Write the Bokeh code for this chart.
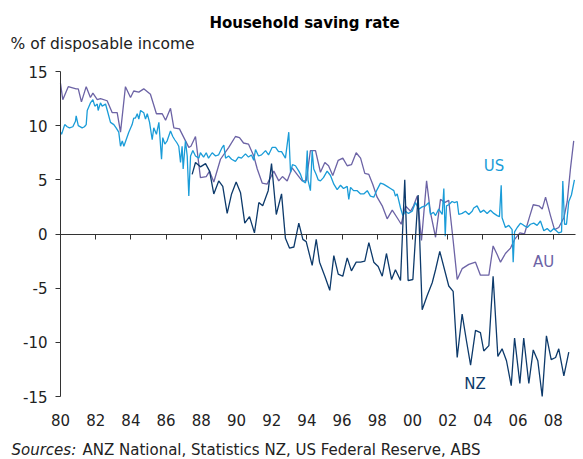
from bokeh.plotting import figure
from bokeh.models import Label, FixedTicker, Range1d, LinearAxis
from bokeh.embed import file_html
from bokeh.resources import INLINE

# ---------------- data ----------------
us_year = [1980.0, 1980.06, 1980.24, 1980.38, 1980.51, 1980.70, 1980.85, 1980.89, 1981.01, 1981.23,
           1981.36, 1981.46, 1981.52, 1981.70, 1981.84, 1981.95, 1982.09, 1982.14, 1982.27, 1982.37,
           1982.56, 1982.71, 1982.84, 1983.03, 1983.16, 1983.31, 1983.41, 1983.51, 1983.60, 1983.73,
           1983.88, 1984.07, 1984.16, 1984.26, 1984.36, 1984.45, 1984.55, 1984.73, 1984.83, 1984.93,
           1985.06, 1985.21, 1985.30, 1985.45, 1985.59, 1985.74, 1985.81, 1985.93, 1986.06, 1986.25,
           1986.38, 1986.49, 1986.62, 1986.72, 1986.82, 1986.91, 1986.97, 1987.10, 1987.20, 1987.29,
           1987.39, 1987.52, 1987.67, 1987.86, 1987.95, 1988.13, 1988.28, 1988.41, 1988.62, 1988.81,
           1988.98, 1989.19, 1989.28, 1989.38, 1989.55, 1989.72, 1989.94, 1990.11, 1990.28, 1990.51,
           1990.68, 1990.85, 1990.98, 1991.08, 1991.25, 1991.42, 1991.65, 1991.82, 1992.03, 1992.22,
           1992.39, 1992.56, 1992.78, 1992.97, 1993.07, 1993.18, 1993.35, 1993.54, 1993.64, 1993.77,
           1993.92, 1994.02, 1994.06, 1994.20, 1994.30, 1994.39, 1994.53, 1994.64, 1994.77, 1994.94,
           1995.15, 1995.34, 1995.53, 1995.72, 1995.91, 1996.08, 1996.29, 1996.38, 1996.48, 1996.65,
           1996.86, 1997.05, 1997.23, 1997.43, 1997.61, 1997.80, 1997.99, 1998.18, 1998.35, 1998.56,
           1998.75, 1998.94, 1999.03, 1999.13, 1999.32, 1999.45, 1999.60, 1999.77, 1999.98, 2000.17,
           2000.36, 2000.55, 2000.74, 2000.93, 2001.02, 2001.19, 2001.31, 2001.49, 2001.69, 2001.78,
           2001.86, 2001.93, 2002.06, 2002.25, 2002.39, 2002.54, 2002.63, 2002.82, 2003.01, 2003.20,
           2003.39, 2003.48, 2003.67, 2003.86, 2004.05, 2004.24, 2004.43, 2004.62, 2004.81, 2004.94,
           2005.04, 2005.09, 2005.28, 2005.47, 2005.66, 2005.72, 2005.80, 2005.95, 2006.14, 2006.32,
           2006.52, 2006.70, 2006.89, 2007.08, 2007.27, 2007.46, 2007.65, 2007.84, 2008.03, 2008.31,
           2008.47, 2008.54, 2008.64, 2008.75, 2008.88, 2009.03, 2009.20]
us_val = [9.4, 9.2, 10.1, 9.9, 9.8, 9.9, 10.4, 10.9, 10.0, 9.8,
          9.9, 10.1, 11.4, 12.1, 12.4, 11.8, 12.0, 11.4, 12.1, 11.8,
          12.0, 11.1, 10.3, 10.1, 9.8, 9.4, 8.1, 8.6, 8.1, 8.7,
          9.4, 10.1, 10.7, 10.7, 11.1, 10.6, 11.4, 11.2, 10.6, 11.1,
          10.3, 8.7, 9.8, 9.2, 10.3, 6.9, 8.9, 8.3, 8.6, 9.5,
          9.0, 8.7, 8.4, 8.1, 6.6, 8.1, 6.0, 8.6, 7.2, 3.5,
          7.2, 7.7, 7.2, 7.0, 7.5, 7.1, 7.5, 7.0, 7.5, 7.2,
          7.3, 8.0, 8.2, 7.0, 7.2, 6.9, 6.7, 7.1, 7.0, 7.4,
          7.1, 7.3, 6.8, 7.8, 7.2, 7.3, 7.7, 7.3, 8.0, 8.0,
          7.6, 7.6, 7.0, 9.4, 5.7, 6.4, 6.3, 5.8, 5.5, 4.9,
          4.7, 7.7, 5.0, 4.0, 7.7, 6.0, 5.5, 5.0, 4.9, 5.2,
          5.8, 5.4, 4.6, 4.1, 4.5, 4.2, 4.4, 3.2, 4.3, 4.0,
          4.0, 3.7, 3.7, 4.0, 3.5, 3.4, 4.1, 4.7, 4.6, 4.4,
          4.2, 4.0, 3.5, 3.7, 2.4, 1.7, 2.1, 1.9, 2.1, 2.9,
          2.3, 2.5, 2.6, 2.9, 1.8, 2.0, 1.7, 2.3, 1.8, 4.2,
          -0.2, 2.6, 2.7, 3.0, 2.9, 3.0, 1.8, 1.9, 2.1, 1.8,
          2.1, 2.4, 2.6, 2.0, 2.2, 1.9, 2.2, 1.9, 1.7, 1.6,
          4.5, 1.5, 0.6, 0.8, 0.4, -2.6, 0.2, 0.6, 1.0, 0.8,
          0.6, 0.9, 1.0, 0.8, 1.2, 0.3, 0.5, 0.2, 0.5, 0.1,
          0.2, 4.9, 0.9, 0.9, 3.0, 3.6, 5.0]

au_year = [1980.0, 1980.13, 1980.44, 1980.89, 1981.01, 1981.19, 1981.46, 1981.70, 1981.84, 1982.09,
           1982.27, 1982.65, 1982.94, 1983.22, 1983.41, 1983.69, 1983.98, 1984.16, 1984.45, 1984.73,
           1985.11, 1985.45, 1985.78, 1985.97, 1986.25, 1986.44, 1986.76, 1987.01, 1987.29, 1987.41,
           1987.67, 1987.95, 1988.28, 1988.47, 1988.71, 1989.09, 1989.56, 1989.94, 1990.17, 1990.40,
           1990.68, 1990.98, 1991.18, 1991.46, 1991.74, 1992.12, 1992.40, 1992.61, 1992.88, 1993.16,
           1993.54, 1993.73, 1993.96, 1994.20, 1994.49, 1994.77, 1995.02, 1995.23, 1995.47, 1995.78,
           1996.04, 1996.29, 1996.53, 1996.80, 1997.05, 1997.29, 1997.52, 1997.74, 1997.99, 1998.28,
           1998.56, 1998.85, 1999.13, 1999.36, 1999.60, 1999.89, 2000.06, 2000.27, 2000.51, 2000.80,
           2001.02, 2001.31, 2001.59, 2001.82, 2002.06, 2002.31, 2002.54, 2002.82, 2003.20, 2003.58,
           2003.86, 2004.34, 2004.58, 2004.81, 2005.00, 2005.28, 2005.57, 2005.80, 2006.10, 2006.36,
           2006.67, 2006.86, 2007.18, 2007.37, 2007.56, 2007.84, 2008.07, 2008.31, 2008.60, 2008.79,
           2008.98, 2009.16]
au_val = [13.9, 12.4, 13.6, 13.4, 13.4, 12.2, 13.6, 12.6, 13.0, 12.4,
          12.5, 12.3, 11.2, 11.2, 9.4, 13.6, 12.6, 13.2, 13.1, 13.4,
          12.9, 11.1, 11.1, 10.5, 11.6, 9.8, 9.7, 8.9, 8.0, 8.1,
          9.0, 5.2, 5.3, 5.8, 4.8, 6.9, 8.0, 9.0, 8.9, 8.4,
          8.3, 7.2, 6.0, 4.7, 4.6, 5.8, 4.9, 5.3, 4.9, 6.1,
          5.3, 4.9, 4.9, 7.7, 7.7, 5.7, 6.6, 6.3, 5.4, 6.8,
          7.0, 6.3, 6.4, 7.5, 7.0, 5.6, 5.5, 4.6, 3.4, 2.6,
          1.4, 2.2, 1.5, 0.9, 2.6, 2.1, 2.6, 3.5, -0.6, 4.9,
          2.0, -0.3, 3.2, 2.9, 3.1, -0.6, -4.2, -3.2, -2.8, -2.6,
          -3.8, -3.8, -1.1, -1.9, -2.6, -1.8, -1.3, -0.5, 0.1, 0.0,
          1.7, 2.7, 2.6, 2.3, 3.4, 1.7, 0.4, 0.6, 1.5, 3.0,
          6.1, 8.6]

nz_year = [1987.48, 1987.67, 1987.95, 1988.24, 1988.47, 1988.71, 1988.99, 1989.22, 1989.47, 1989.72,
           1989.98, 1990.23, 1990.47, 1990.74, 1991.02, 1991.27, 1991.49, 1991.80, 1991.99, 1992.26,
           1992.56, 1992.78, 1993.01, 1993.26, 1993.54, 1993.77, 1993.96, 1994.30, 1994.53, 1994.72,
           1995.02, 1995.30, 1995.53, 1995.78, 1996.04, 1996.29, 1996.53, 1996.80, 1997.05, 1997.29,
           1997.52, 1997.80, 1998.05, 1998.28, 1998.52, 1998.81, 1999.03, 1999.32, 1999.56, 1999.75,
           2000.02, 2000.32, 2000.55, 2000.83, 2001.12, 2001.31, 2001.55, 2002.06, 2002.31, 2002.54,
           2002.82, 2003.07, 2003.30, 2003.58, 2003.86, 2004.05, 2004.34, 2004.58, 2004.85, 2005.09,
           2005.34, 2005.61, 2005.80, 2006.10, 2006.32, 2006.61, 2006.86, 2007.12, 2007.37, 2007.61,
           2007.88, 2008.13, 2008.31, 2008.60, 2008.88]
nz_val = [5.5, 6.6, 6.2, 6.5, 5.8, 3.7, 4.9, 4.4, 1.9, 3.7,
          4.8, 3.8, 1.0, 1.6, 0.1, 2.9, 2.6, 4.0, 6.5, 1.8,
          3.7, -0.4, -1.3, -1.2, 1.0, -0.5, -0.7, -2.9, -0.5, -2.6,
          -3.9, -5.2, -2.0, -3.7, -3.9, -2.2, -3.4, -2.6, -2.6, -2.5,
          -0.8, -2.6, -3.0, -3.9, -1.8, -4.2, -3.3, -4.3, 5.0, -4.3,
          -4.2, 3.6, -7.0, -5.7, -4.5, -3.3, -1.6, -4.8, -5.3, -11.4,
          -7.4, -9.9, -12.1, -8.9, -9.1, -10.8, -10.3, -3.9, -11.3, -10.6,
          -11.7, -14.0, -9.6, -13.8, -9.6, -13.8, -10.7, -11.7, -15.0, -9.4,
          -11.6, -11.4, -10.6, -13.1, -10.9]

x_ticks = [1980, 1982, 1984, 1986, 1988, 1990, 1992, 1994, 1996, 1998, 2000, 2002, 2004, 2006, 2008]
x_tick_labels = ["80", "82", "84", "86", "88", "90", "92", "94", "96", "98", "00", "02", "04", "06", "08"]
y_ticks = [15, 10, 5, 0, -5, -10, -15]
y_tick_labels = ["15", "10", "5", "0", "-5", "-10", "-15"]

series_names = ["US", "AU", "NZ"]
series_colors = ["#1a9cd8", "#6c63a5", "#0d3a6b"]

title_text = "Household saving rate"
ylabel_text = "% of disposable income"
source_lead = "Sources:"
source_text = "ANZ National, Statistics NZ, US Federal Reserve, ABS"

# ---------------- layout geometry (pixels) ----------------
W, H = 583, 459
PX_LEFT, PX_TOP, PX_BOTTOM = 60.0, 71.0, 396.0     # where 1980 / +15 / -15 sit
PX_PER_YEAR = 17.6
Y_TOP, Y_BOT = 15.0, -15.0
PX_PER_UNIT = (PX_BOTTOM - PX_TOP) / (Y_TOP - Y_BOT)


def xd(px):
    return 1980 + (px - PX_LEFT) / PX_PER_YEAR


def yd(py):
    return Y_TOP - (py - PX_TOP) / PX_PER_UNIT


FONT = "DejaVu Sans"
TXT = "#222222"
AX = "#333333"

p = figure(width=W, height=H, output_backend="svg", toolbar_location=None,
           x_range=Range1d(xd(0), xd(W)), y_range=Range1d(yd(H), yd(0)),
           x_axis_location=None, y_axis_location=None, min_border=0)
p.outline_line_color = None
p.xgrid.grid_line_color = None
p.ygrid.grid_line_color = None
p.background_fill_color = "white"
p.border_fill_color = "white"

# y axis at 1980, spanning -15..15
yax = LinearAxis(fixed_location=1980, bounds=(Y_BOT, Y_TOP), ticker=FixedTicker(ticks=y_ticks))
yax.major_label_overrides = dict(zip(y_ticks, y_tick_labels))
yax.major_tick_out = 5
yax.major_tick_in = 0
yax.minor_tick_line_color = None
yax.axis_line_color = AX
yax.major_tick_line_color = AX
yax.major_label_standoff = 8
yax.major_label_text_font = FONT
yax.major_label_text_font_size = "15px"
yax.major_label_text_color = TXT
p.add_layout(yax, "left")

# zero line with downward ticks (no labels)
zax = LinearAxis(fixed_location=0, bounds=(1980, xd(575)), ticker=FixedTicker(ticks=x_ticks))
zax.major_label_text_alpha = 0
zax.major_label_text_font_size = "1px"
zax.major_tick_out = 5
zax.major_tick_in = 0
zax.minor_tick_line_color = None
zax.axis_line_color = AX
zax.axis_line_width = 1.2
zax.major_tick_line_color = AX
p.add_layout(zax, "below")

# year labels along the bottom
xax = LinearAxis(fixed_location=Y_BOT, ticker=FixedTicker(ticks=x_ticks))
xax.major_label_overrides = dict(zip(x_ticks, x_tick_labels))
xax.axis_line_color = None
xax.major_tick_line_color = None
xax.minor_tick_line_color = None
xax.major_tick_out = 0
xax.major_tick_in = 0
xax.major_label_standoff = 17
xax.major_label_text_font = FONT
xax.major_label_text_font_size = "15px"
xax.major_label_text_color = TXT
p.add_layout(xax, "below")

# series
p.line(au_year, au_val, line_color=series_colors[1], line_width=1.3)
p.line(us_year, us_val, line_color=series_colors[0], line_width=1.3)
p.line(nz_year, nz_val, line_color=series_colors[2], line_width=1.3)

label_px = [(493.5, 165.0), (543.0, 261.5), (474.5, 383.5)]
for name, col, (lx, ly) in zip(series_names, series_colors, label_px):
    p.add_layout(Label(x=xd(lx), y=yd(ly), text=name, text_color=col, text_font=FONT,
                       text_font_size="15px", text_align="center", text_baseline="middle"))

# title, unit label, sources
p.add_layout(Label(x=xd(304), y=yd(22.5), text=title_text,
                   text_font=FONT, text_font_size="15px", text_font_style="bold",
                   text_color="black", text_align="center", text_baseline="middle"))
p.add_layout(Label(x=xd(10), y=yd(43.5), text=ylabel_text,
                   text_font=FONT, text_font_size="15.5px", text_color=TXT,
                   text_align="left", text_baseline="middle"))
p.add_layout(Label(x=xd(11), y=yd(449), text=source_lead,
                   text_font=FONT, text_font_size="15px", text_font_style="italic", text_color=TXT,
                   text_align="left", text_baseline="middle"))
p.add_layout(Label(x=xd(82), y=yd(449), text=source_text,
                   text_font=FONT, text_font_size="15px", text_color=TXT,
                   text_align="left", text_baseline="middle"))

open("out.html", "w").write(file_html(p, INLINE))
